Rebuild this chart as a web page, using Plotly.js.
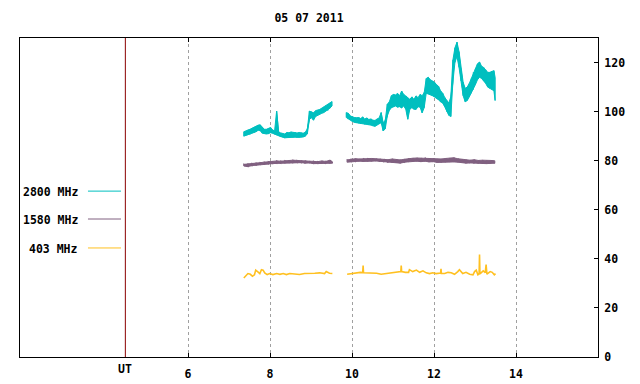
<!DOCTYPE html>
<html>
<head>
<meta charset="utf-8">
<script src="https://cdn.plot.ly/plotly-3.0.1.min.js"></script>
<style>html,body{margin:0;padding:0;background:#fff}#chart{width:640px;height:384px}</style>
</head>
<body>
<div id="chart"></div>
<script>
// ---- 2800 MHz (min/max per sample) ----
const t2800a = [7.36,7.41,7.46,7.51,7.56,7.61,7.66,7.71,7.76,7.81,7.86,7.91,7.96,8.01,8.06,8.11,8.16,8.21,8.26,8.31,8.36,8.41,8.46,8.51,8.56,8.61,8.66,8.71,8.76,8.81,8.86,8.91,8.96,9.01,9.06,9.11,9.16,9.21,9.26,9.31,9.36,9.41,9.46,9.51];
const lo2800a = [90.0,90.3,90.5,90.7,91.2,91.4,91.8,92.4,92.2,91.2,91.0,90.9,91.0,91.4,91.2,90.8,90.5,90.2,89.8,89.6,89.3,89.4,89.5,89.5,89.4,89.6,89.5,89.4,89.6,89.7,90.0,91.0,96.9,97.5,96.5,98.0,98.5,98.9,99.3,99.6,100.2,100.5,101.4,102.3];
const hi2800a = [91.8,92.0,92.5,92.8,93.3,93.7,94.0,94.5,94.6,93.5,92.8,92.8,93.0,93.5,92.6,92.0,100.2,91.7,91.3,91.0,90.9,91.5,91.4,91.7,91.5,91.6,91.3,91.5,91.4,91.2,91.6,93.0,100.2,100.0,99.5,100.4,100.6,100.9,101.4,101.9,102.4,103.0,103.4,104.1];
const t2800b = [9.86,9.91,9.96,10.01,10.06,10.11,10.16,10.21,10.26,10.31,10.36,10.41,10.46,10.51,10.56,10.61,10.66,10.71,10.76,10.81,10.86,10.91,10.96,11.01,11.06,11.11,11.16,11.21,11.26,11.31,11.36,11.41,11.46,11.51,11.56,11.61,11.66,11.71,11.76,11.81,11.86,11.91,11.96,12.01,12.06,12.11,12.16,12.21,12.26,12.31,12.36,12.41,12.46,12.51,12.56,12.61,12.66,12.71,12.76,12.81,12.86,12.91,12.96,13.01,13.06,13.11,13.16,13.21,13.26,13.31,13.36,13.41,13.46,13.49];
const lo2800b = [97.6,97.0,96.5,96.0,95.6,95.5,95.3,95.0,95.2,94.8,95.0,94.6,94.5,94.2,94.0,94.5,95.0,95.5,92.1,93.0,98.2,100.5,101.6,102.0,102.3,101.8,102.0,101.5,102.3,101.0,96.9,101.0,101.6,101.0,100.9,102.0,101.8,99.5,101.6,107.5,107.2,107.0,106.5,106.0,105.5,104.8,104.0,103.5,102.0,100.0,98.5,98.0,112.0,120.0,122.5,118.0,112.5,106.5,104.0,104.5,106.0,107.5,109.0,111.0,113.0,114.0,113.5,112.5,111.5,110.0,109.5,109.0,108.5,104.5];
const hi2800b = [99.6,99.3,98.2,97.8,97.6,97.5,97.6,97.2,97.8,97.0,97.4,96.8,97.0,96.5,96.4,97.0,97.4,99.6,95.5,96.5,103.0,104.0,106.5,107.0,106.8,107.4,106.5,108.4,107.0,106.4,105.5,105.0,106.0,105.0,106.4,105.7,107.0,106.5,107.7,113.5,114.0,113.0,112.5,112.0,111.0,110.3,108.5,107.5,105.8,104.5,103.5,106.0,121.0,126.0,128.3,124.5,117.5,112.0,109.5,110.0,111.5,113.5,116.0,117.5,119.5,120.2,118.5,118.0,117.0,116.0,116.0,116.5,116.7,114.0];

// ---- 1580 MHz (min/max per sample) ----
const t1580a = [7.36,7.46,7.56,7.66,7.76,7.86,7.96,8.06,8.16,8.26,8.36,8.46,8.56,8.66,8.76,8.86,8.96,9.06,9.16,9.26,9.36,9.46,9.52];
const lo1580a = [77.8,77.6,78.0,78.2,78.5,78.6,78.7,78.8,78.9,79.0,79.1,79.2,79.1,79.3,79.2,79.0,79.1,78.8,78.9,79.0,78.8,79.0,79.0];
const hi1580a = [78.5,78.6,78.9,79.0,79.2,79.4,79.6,79.5,79.9,79.8,80.0,80.1,80.2,80.1,80.0,79.9,79.8,79.8,79.6,79.9,79.7,80.2,79.6];
const t1580b = [9.88,9.98,10.08,10.18,10.28,10.38,10.48,10.58,10.68,10.78,10.88,10.98,11.08,11.18,11.28,11.38,11.48,11.58,11.68,11.78,11.88,11.98,12.08,12.18,12.28,12.38,12.48,12.58,12.68,12.78,12.88,12.98,13.08,13.18,13.28,13.38,13.48];
const lo1580b = [79.4,79.6,79.7,79.8,79.7,79.9,79.8,79.9,79.7,79.5,79.3,79.4,79.2,79.0,79.4,79.6,79.7,79.8,79.6,79.8,79.5,79.6,79.3,79.4,79.5,79.6,79.5,79.4,79.2,79.0,79.1,79.0,78.9,79.0,78.8,78.9,79.0];
const hi1580b = [80.3,80.6,80.8,80.7,80.8,81.0,80.9,80.8,80.7,80.6,80.4,80.7,80.5,80.3,80.6,80.9,81.0,81.1,81.0,81.2,80.8,80.9,80.6,80.7,80.9,81.0,81.2,80.8,80.5,80.3,80.2,80.4,80.1,80.2,80.0,80.1,80.0];

// ---- 403 MHz ----
const t403a = [7.36,7.41,7.46,7.52,7.57,7.62,7.65,7.71,7.75,7.79,7.83,7.87,7.93,7.99,8.07,8.16,8.24,8.32,8.40,8.48,8.60,8.72,8.84,8.96,9.09,9.21,9.33,9.37,9.45,9.52];
const v403a = [32.2,33.2,34.0,33.7,32.9,33.5,35.4,34.6,34.0,35.6,35.4,34.3,33.6,34.0,33.6,34.0,33.7,34.0,33.6,34.0,33.9,33.6,34.0,33.9,34.1,34.3,34.0,34.8,34.1,34.0];
const t403b = [9.88,9.98,10.10,10.20,10.26,10.27,10.28,10.43,10.52,10.60,10.71,10.83,10.96,11.08,11.16,11.19,11.20,11.21,11.30,11.38,11.40,11.48,11.57,11.65,11.73,11.81,11.89,11.97,12.05,12.13,12.16,12.17,12.18,12.26,12.34,12.42,12.50,12.58,12.62,12.70,12.78,12.87,12.95,12.99,13.03,13.07,13.10,13.11,13.12,13.16,13.20,13.25,13.27,13.29,13.31,13.37,13.42,13.47,13.50];
const v403b = [33.7,34.0,34.3,34.5,34.4,37.3,34.3,34.3,34.0,34.1,33.7,34.0,34.3,34.5,34.9,34.8,37.3,34.8,34.5,34.5,35.6,34.8,35.4,34.5,35.1,34.3,34.0,34.3,34.0,34.3,34.2,35.9,34.0,34.0,34.5,34.3,33.7,34.8,35.6,34.0,34.5,33.7,33.5,34.8,35.4,33.5,33.8,41.8,33.9,34.5,35.1,34.4,37.7,33.8,34.0,34.8,34.5,33.5,34.0];

const title = '05 07 2011';
const tickVals = [6, 8, 10, 12, 14];
const tickText = ['6', '8', '10', '12', '14'];
const legendNames = ['2800 MHz', '1580 MHz', '403 MHz'];
const colors = ['#00BFBF', '#806080', '#FFC020'];

const traces = [];
// filled min/max band per segment, plus a zig-zag overlay for texture
function addBand(t, lo, hi, color, w) {
  traces.push({x: t, y: lo, mode: 'lines', line: {color: color, width: 1}, hoverinfo: 'skip'});
  traces.push({x: t, y: hi, mode: 'lines', line: {color: color, width: 1}, fill: 'tonexty', fillcolor: color, hoverinfo: 'skip'});
  const xs = [], ys = [];
  for (let i = 0; i < t.length; i++) { xs.push(t[i], t[i]); ys.push(lo[i], hi[i]); }
  traces.push({x: xs, y: ys, mode: 'lines', line: {color: color, width: w}, hoverinfo: 'skip'});
}
addBand(t2800a, lo2800a, hi2800a, colors[0], 1.2);
addBand(t2800b, lo2800b, hi2800b, colors[0], 1.2);
addBand(t1580a, lo1580a, hi1580a, colors[1], 1.2);
addBand(t1580b, lo1580b, hi1580b, colors[1], 1.2);
traces.push({x: t403a, y: v403a, mode: 'lines', line: {color: colors[2], width: 1.6}, hoverinfo: 'skip'});
traces.push({x: t403b, y: v403b, mode: 'lines', line: {color: colors[2], width: 1.6}, hoverinfo: 'skip'});

const font = {family: 'DejaVu Sans Mono', size: 11.5, color: '#000', weight: 'bold'};

const legY = [0.520, 0.4326, 0.3418];
const shapes = [
  {type: 'line', xref: 'x', yref: 'paper', x0: 4.47, x1: 4.47, y0: 0, y1: 1, line: {color: '#8B0000', width: 1}}
];
const annotations = [
  {text: 'UT', xref: 'x', yref: 'paper', x: 4.47, y: 0, yshift: -12, showarrow: false, font: font, xanchor: 'center', yanchor: 'middle'}
];
legendNames.forEach((n, i) => {
  shapes.push({type: 'line', xref: 'paper', yref: 'paper', x0: 0.1176, x1: 0.1747, y0: legY[i], y1: legY[i], line: {color: colors[i], width: 1}});
  annotations.push({text: n, xref: 'paper', yref: 'paper', x: 0.1038, y: legY[i], yshift: -1, xanchor: 'right', yanchor: 'middle', showarrow: false, font: font});
});

const layout = {
  width: 640, height: 384,
  margin: {l: 20, r: 42, t: 38, b: 27, pad: 0},
  paper_bgcolor: '#fff', plot_bgcolor: '#fff',
  showlegend: false,
  font: font,
  title: {text: title, font: font, x: 0.5, xref: 'paper', y: 1 - 18/384, yref: 'container', xanchor: 'center', yanchor: 'middle'},
  xaxis: {
    range: [1.9, 16], tickvals: tickVals, ticktext: tickText,
    ticks: 'inside', ticklen: 4, tickcolor: '#000', tickwidth: 1,
    showline: true, linecolor: '#000', linewidth: 1, mirror: 'ticks',
    showgrid: true, gridcolor: '#A0A0A0', gridwidth: 1, griddash: '3px,3px',
    zeroline: false, tickfont: font, ticklabelstandoff: 6, fixedrange: true
  },
  yaxis: {
    range: [0, 130], side: 'right', tickvals: [0, 20, 40, 60, 80, 100, 120],
    ticks: 'inside', ticklen: 4, tickcolor: '#000', tickwidth: 1,
    showline: true, linecolor: '#000', linewidth: 1, mirror: true,
    showgrid: false, zeroline: false, tickfont: font, ticklabelstandoff: 3, fixedrange: true
  },
  shapes: shapes,
  annotations: annotations
};

Plotly.newPlot('chart', traces, layout, {staticPlot: true, displayModeBar: false});
</script>
</body>
</html>
